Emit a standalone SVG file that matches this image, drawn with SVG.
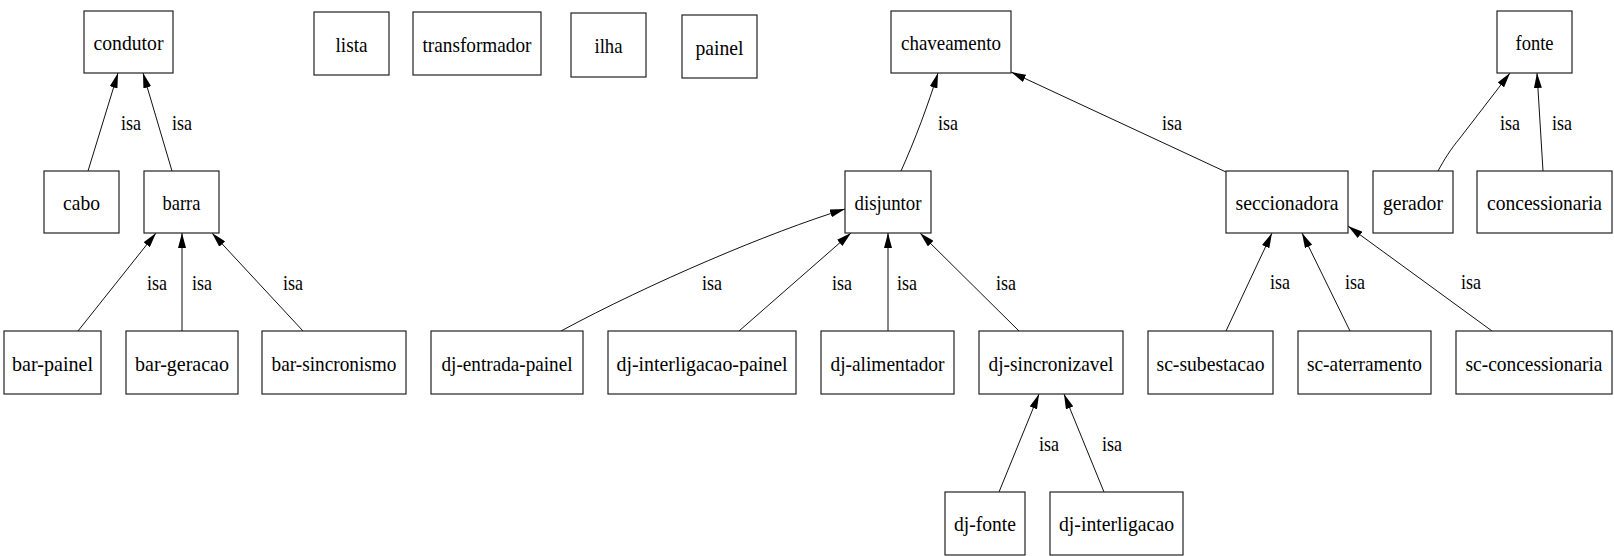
<svg xmlns="http://www.w3.org/2000/svg" width="1614" height="556" viewBox="0 0 1614 556">
<style>
.n rect{fill:#fff;stroke:#222;stroke-width:1.2}
.n text{font-family:"Liberation Serif","Times New Roman",serif;font-size:21px;fill:#000;text-anchor:middle}
.e line,.e path{stroke:#111;stroke-width:1;fill:none;marker-end:url(#arr)}
.l{font-family:"Liberation Serif","Times New Roman",serif;font-size:21px;fill:#000}
</style>
<defs>
<marker id="arr" viewBox="0 0 15 8" refX="15" refY="4" markerWidth="15" markerHeight="8" markerUnits="userSpaceOnUse" orient="auto">
<path d="M0,0 L15,4 L0,8 z" fill="#000"/>
</marker>
</defs>
<rect width="1614" height="556" fill="#fff"/>
<g id="edges" class="e">
<line x1="88" y1="171" x2="118" y2="73"/>
<line x1="172" y1="171" x2="143" y2="73"/>
<line x1="78" y1="331" x2="156" y2="233"/>
<line x1="182" y1="331" x2="182" y2="233"/>
<line x1="303" y1="331" x2="212" y2="233"/>
<path d="M901,171 C915,140 928,105 938,73"/>
<line x1="1226" y1="172" x2="1011" y2="72"/>
<path d="M1438,171 C1444,160 1450,150 1460,138 L1510,73"/>
<line x1="1543" y1="171" x2="1537" y2="73"/>
<path d="M561,331 C650,283 770,232 845,209"/>
<line x1="739" y1="331" x2="851" y2="233"/>
<line x1="888" y1="331" x2="888" y2="233"/>
<line x1="1019" y1="331" x2="920" y2="233"/>
<line x1="1226" y1="331" x2="1272" y2="233"/>
<line x1="1350" y1="331" x2="1302" y2="233"/>
<line x1="1492" y1="331" x2="1348" y2="226"/>
<line x1="999" y1="492" x2="1039" y2="394"/>
<line x1="1104" y1="492" x2="1064" y2="394"/>
</g>
<g id="edge-labels">
<text class="l" x="121" y="130" textLength="20" lengthAdjust="spacingAndGlyphs">isa</text>
<text class="l" x="172" y="130" textLength="20" lengthAdjust="spacingAndGlyphs">isa</text>
<text class="l" x="147" y="290" textLength="20" lengthAdjust="spacingAndGlyphs">isa</text>
<text class="l" x="192" y="290" textLength="20" lengthAdjust="spacingAndGlyphs">isa</text>
<text class="l" x="283" y="290" textLength="20" lengthAdjust="spacingAndGlyphs">isa</text>
<text class="l" x="938" y="130" textLength="20" lengthAdjust="spacingAndGlyphs">isa</text>
<text class="l" x="1162" y="130" textLength="20" lengthAdjust="spacingAndGlyphs">isa</text>
<text class="l" x="1500" y="130" textLength="20" lengthAdjust="spacingAndGlyphs">isa</text>
<text class="l" x="1552" y="130" textLength="20" lengthAdjust="spacingAndGlyphs">isa</text>
<text class="l" x="702" y="290" textLength="20" lengthAdjust="spacingAndGlyphs">isa</text>
<text class="l" x="832" y="290" textLength="20" lengthAdjust="spacingAndGlyphs">isa</text>
<text class="l" x="897" y="290" textLength="20" lengthAdjust="spacingAndGlyphs">isa</text>
<text class="l" x="996" y="290" textLength="20" lengthAdjust="spacingAndGlyphs">isa</text>
<text class="l" x="1270" y="289" textLength="20" lengthAdjust="spacingAndGlyphs">isa</text>
<text class="l" x="1345" y="289" textLength="20" lengthAdjust="spacingAndGlyphs">isa</text>
<text class="l" x="1461" y="289" textLength="20" lengthAdjust="spacingAndGlyphs">isa</text>
<text class="l" x="1039" y="451" textLength="20" lengthAdjust="spacingAndGlyphs">isa</text>
<text class="l" x="1102" y="451" textLength="20" lengthAdjust="spacingAndGlyphs">isa</text>
</g>
<g id="condutor" class="n"><rect x="84" y="11" width="89" height="62"/><text x="128.5" y="50" textLength="70" lengthAdjust="spacingAndGlyphs">condutor</text></g>
<g id="lista" class="n"><rect x="314" y="12" width="75" height="63"/><text x="351.5" y="51.5" textLength="32" lengthAdjust="spacingAndGlyphs">lista</text></g>
<g id="transformador" class="n"><rect x="413" y="12" width="128" height="63"/><text x="477" y="51.5" textLength="109" lengthAdjust="spacingAndGlyphs">transformador</text></g>
<g id="ilha" class="n"><rect x="571" y="13" width="75" height="64"/><text x="608.5" y="53" textLength="28" lengthAdjust="spacingAndGlyphs">ilha</text></g>
<g id="painel" class="n"><rect x="682" y="15" width="75" height="63"/><text x="719.5" y="54.5" textLength="48" lengthAdjust="spacingAndGlyphs">painel</text></g>
<g id="chaveamento" class="n"><rect x="891" y="11" width="120" height="62"/><text x="951" y="50" textLength="100" lengthAdjust="spacingAndGlyphs">chaveamento</text></g>
<g id="fonte" class="n"><rect x="1497" y="11" width="75" height="62"/><text x="1534.5" y="50" textLength="38" lengthAdjust="spacingAndGlyphs">fonte</text></g>
<g id="cabo" class="n"><rect x="44" y="171" width="75" height="62"/><text x="81.5" y="210" textLength="37" lengthAdjust="spacingAndGlyphs">cabo</text></g>
<g id="barra" class="n"><rect x="144" y="171" width="75" height="62"/><text x="181.5" y="210" textLength="38" lengthAdjust="spacingAndGlyphs">barra</text></g>
<g id="disjuntor" class="n"><rect x="845" y="171" width="86" height="62"/><text x="888" y="210" textLength="67" lengthAdjust="spacingAndGlyphs">disjuntor</text></g>
<g id="seccionadora" class="n"><rect x="1226" y="171" width="122" height="62"/><text x="1287" y="210" textLength="103" lengthAdjust="spacingAndGlyphs">seccionadora</text></g>
<g id="gerador" class="n"><rect x="1373" y="171" width="80" height="62"/><text x="1413" y="210" textLength="60" lengthAdjust="spacingAndGlyphs">gerador</text></g>
<g id="concessionaria" class="n"><rect x="1477" y="171" width="135" height="62"/><text x="1544.5" y="210" textLength="115" lengthAdjust="spacingAndGlyphs">concessionaria</text></g>
<g id="bar-painel" class="n"><rect x="4" y="331" width="97" height="63"/><text x="52.5" y="371" textLength="81" lengthAdjust="spacingAndGlyphs">bar-painel</text></g>
<g id="bar-geracao" class="n"><rect x="126" y="331" width="112" height="63"/><text x="182" y="371" textLength="94" lengthAdjust="spacingAndGlyphs">bar-geracao</text></g>
<g id="bar-sincronismo" class="n"><rect x="262" y="331" width="144" height="63"/><text x="334" y="371" textLength="125" lengthAdjust="spacingAndGlyphs">bar-sincronismo</text></g>
<g id="dj-entrada-painel" class="n"><rect x="431" y="331" width="152" height="63"/><text x="507" y="371" textLength="131" lengthAdjust="spacingAndGlyphs">dj-entrada-painel</text></g>
<g id="dj-interligacao-painel" class="n"><rect x="608" y="331" width="188" height="63"/><text x="702" y="371" textLength="171" lengthAdjust="spacingAndGlyphs">dj-interligacao-painel</text></g>
<g id="dj-alimentador" class="n"><rect x="821" y="331" width="133" height="63"/><text x="887.5" y="371" textLength="114" lengthAdjust="spacingAndGlyphs">dj-alimentador</text></g>
<g id="dj-sincronizavel" class="n"><rect x="979" y="331" width="144" height="63"/><text x="1051" y="371" textLength="125" lengthAdjust="spacingAndGlyphs">dj-sincronizavel</text></g>
<g id="sc-subestacao" class="n"><rect x="1148" y="331" width="125" height="63"/><text x="1210.5" y="371" textLength="108" lengthAdjust="spacingAndGlyphs">sc-subestacao</text></g>
<g id="sc-aterramento" class="n"><rect x="1298" y="331" width="133" height="63"/><text x="1364.5" y="371" textLength="115" lengthAdjust="spacingAndGlyphs">sc-aterramento</text></g>
<g id="sc-concessionaria" class="n"><rect x="1456" y="331" width="156" height="63"/><text x="1534" y="371" textLength="137" lengthAdjust="spacingAndGlyphs">sc-concessionaria</text></g>
<g id="dj-fonte" class="n"><rect x="945" y="492" width="80" height="63"/><text x="985" y="531" textLength="62" lengthAdjust="spacingAndGlyphs">dj-fonte</text></g>
<g id="dj-interligacao" class="n"><rect x="1050" y="492" width="133" height="63"/><text x="1116.5" y="531" textLength="115" lengthAdjust="spacingAndGlyphs">dj-interligacao</text></g>
</svg>
